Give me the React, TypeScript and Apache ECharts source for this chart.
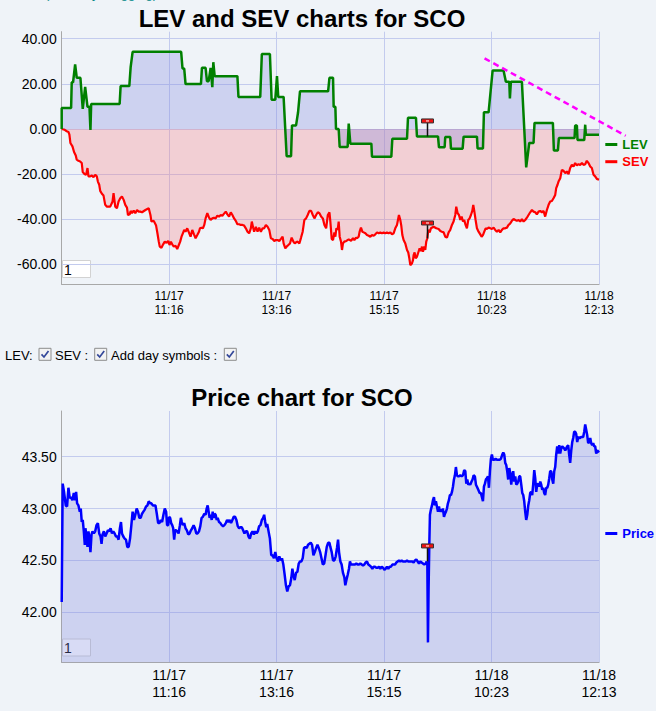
import React, { useEffect, useRef } from 'react';
import * as echarts from 'echarts';

const FONT = 'Arial, "Liberation Sans", Helvetica, sans-serif';
const BG = '#eff3f8';

// x axis: minute index of the session (0..600), ticks every 120
const xTickLabels = ['', '11/17\n11:16', '11/17\n13:16', '11/17\n15:15', '11/18\n10:23', '11/18\n12:13'];
const levYTicks = [-60, -40, -20, 0, 20, 40];
const priceYTicks = [42, 42.5, 43, 43.5];

// LEV (step-like line): [minute, value]
const levPoints = [
  [0, 0], [0, 9.3], [10.5, 9.3], [11.2, 20.7], [12.7, 20.7], [15.0, 28.6], [16.8, 22.7], [20.9, 22.7], [23.5, 8.9],
  [26.2, 18.7], [28.8, 9.8], [31.0, 9.8], [32.1, -0.4], [32.9, 11.1], [64.7, 11.1], [65.8, 19.0], [75.5, 19.0],
  [77.0, 27.4], [79.2, 34.2], [133.4, 34.2], [134.9, 26.8], [136.8, 26.8], [138.3, 19.9], [155.5, 19.9], [156.6, 27.1],
  [160.7, 27.1], [162.2, 21.2], [164.1, 21.2], [166.3, 27.1], [168.2, 18.5], [169.3, 29.6], [170.8, 23.4], [196.2, 23.4],
  [197.4, 14.2], [221.7, 14.2], [223.5, 33.2], [232.5, 33.2], [234.4, 13.0], [238.5, 13.0], [240.4, 23.4], [241.8, 14.2],
  [247.8, 14.2], [251.2, -12.1], [256.1, -12.1], [257.2, 1.6], [261.7, 1.6], [263.9, 7.3], [266.1, 16.7], [297.5, 16.7],
  [299.0, 22.7], [303.0, 22.7], [303.7, 9.8], [305.6, 9.8], [306.3, 0], [309.3, 0], [310.4, -8.0], [319.3, -8.0],
  [320.5, 2.4], [322.3, -6.5], [345.8, -6.5], [346.5, -12.3], [368.1, -12.3], [369.2, -4.3], [385.6, -4.3], [386.7, 5.0],
  [395.6, 5.0], [396.7, -3.3], [420.2, -3.3], [421.3, -8.1], [427.6, -8.1], [428.3, -3.6], [433.9, -3.6], [434.7, -8.7],
  [447.7, -8.7], [448.8, -3.4], [463.7, -3.4], [464.4, -8.6], [470.4, -8.6], [471.5, 7.4], [476.7, 7.4], [481.2, 25.9],
  [493.4, 25.9], [496.0, 20.9], [499.8, 20.9], [500.5, 13.5], [501.6, 20.9], [513.9, 20.9], [518.7, -17.0], [522.1, -6.2],
  [526.9, -6.2], [528.0, 2.7], [548.5, 2.7], [549.6, -9.5], [554.1, -9.5], [555.2, -4.0], [572.7, -4.0], [573.4, 1.5],
  [575.3, 1.5], [576.0, -4.9], [583.5, -4.9], [584.6, 1.9], [585.3, -2.5], [600, -2.5],
];

// SEV: [minute, value]
const sevPoints = [
  [0, 0], [3.0, -0.3], [5.6, -1.0], [7.5, -1.3], [8.6, -2.5], [9.7, -6.2], [12.0, -7.7], [13.8, -10.2], [15.7, -11.7],
  [16.8, -13.6], [18.7, -14.1], [20.6, -14.4], [22.4, -15.1], [23.5, -19.1], [25.4, -19.9], [27.3, -20.3], [28.8, -17.3],
  [29.9, -21.0], [31.8, -21.0], [33.6, -20.6], [35.5, -21.3], [37.4, -20.3], [39.2, -21.0], [40.4, -23.3], [41.9, -24.7],
  [43.0, -27.4], [44.9, -28.7], [46.7, -29.5], [48.6, -33.6], [50.5, -34.4], [54.2, -34.4], [56.8, -32.1], [57.9, -28.4],
  [59.8, -34.4], [61.7, -35.1], [63.5, -32.1], [65.4, -30.7], [67.3, -29.9], [69.2, -31.4], [71.0, -33.6], [72.9, -34.8],
  [74.0, -38.1], [75.9, -37.8], [77.0, -36.3], [78.5, -37.3], [80.4, -36.1], [82.2, -37.3], [84.1, -35.9], [86.0, -36.6],
  [87.8, -36.6], [89.7, -36.9], [93.5, -35.9], [97.2, -35.1], [99.1, -38.1], [100.2, -41.0], [102.8, -40.7], [105.4, -42.8],
  [106.9, -46.2], [108.4, -49.9], [109.5, -52.1], [111.4, -52.6], [113.3, -51.1], [115.1, -49.9], [117.0, -50.4],
  [118.9, -49.6], [120.4, -51.4], [121.9, -49.9], [123.4, -51.1], [125.2, -52.1], [127.1, -51.7], [129.0, -53.2],
  [130.8, -51.4], [132.3, -49.9], [133.8, -47.7], [135.3, -46.2], [136.8, -44.7], [138.3, -45.5], [140.2, -44.0],
  [142.0, -45.8], [143.9, -47.7], [145.8, -44.7], [147.7, -46.7], [149.5, -48.4], [151.4, -47.0], [153.3, -45.5],
  [154.4, -44.0], [156.2, -43.7], [157.7, -44.0], [159.2, -42.5], [160.7, -39.6], [162.6, -37.3], [164.5, -39.3],
  [166.3, -40.3], [168.2, -39.6], [170.1, -39.3], [171.9, -39.6], [173.8, -38.4], [175.7, -38.8], [177.6, -38.1],
  [179.4, -38.4], [181.3, -37.5], [183.2, -36.6], [185.0, -37.8], [186.9, -38.8], [188.8, -36.9], [190.6, -38.1],
  [192.5, -39.6], [194.4, -40.7], [196.2, -42.2], [198.1, -42.2], [200.0, -42.5], [201.9, -42.5], [203.7, -42.8],
  [205.6, -44.0], [207.5, -45.5], [209.3, -46.2], [211.2, -44.0], [212.3, -41.0], [213.8, -43.7], [214.9, -45.5],
  [216.8, -43.3], [218.7, -45.5], [220.5, -43.7], [222.4, -45.5], [224.3, -44.0], [226.1, -44.0], [228.0, -42.5],
  [229.9, -43.3], [231.8, -44.7], [233.6, -48.4], [235.5, -48.7], [237.4, -49.6], [239.2, -49.2], [241.1, -49.2],
  [243.0, -49.6], [244.8, -48.7], [246.7, -47.7], [247.8, -50.7], [249.7, -52.9], [251.2, -52.1], [253.1, -51.4],
  [254.9, -50.7], [256.8, -48.1], [258.7, -49.9], [260.2, -50.7], [261.7, -50.2], [263.5, -49.9], [265.4, -50.7],
  [267.3, -48.1], [269.1, -45.5], [271.0, -40.3], [272.9, -39.6], [274.7, -38.1], [276.6, -36.3], [278.5, -36.3],
  [280.4, -38.1], [282.2, -39.6], [284.1, -38.1], [286.0, -36.9], [287.8, -37.3], [289.7, -38.8], [291.6, -39.6],
  [293.4, -42.5], [295.3, -44.0], [297.2, -38.1], [299.0, -36.9], [300.0, -41.0], [301.5, -48.7], [303.0, -49.2],
  [304.5, -45.8], [305.6, -47.7], [306.7, -44.0], [308.2, -44.7], [309.3, -41.0], [310.4, -47.7], [311.9, -49.9],
  [313.0, -53.6], [314.1, -50.7], [315.6, -49.9], [317.9, -49.6], [320.5, -48.9], [323.1, -49.5], [325.3, -48.4],
  [326.8, -49.2], [328.6, -48.1], [329.8, -48.4], [331.6, -47.7], [332.7, -45.5], [334.2, -43.7], [335.7, -45.5],
  [337.2, -45.8], [339.1, -46.2], [340.9, -47.0], [342.8, -47.3], [344.6, -47.7], [346.5, -47.0], [348.4, -47.3],
  [350.2, -46.7], [352.1, -45.8], [353.9, -46.2], [355.8, -45.9], [357.7, -46.2], [359.5, -45.9], [361.4, -46.2],
  [363.2, -45.9], [365.1, -46.2], [367.0, -45.8], [368.8, -46.7], [370.7, -46.2], [372.5, -44.0], [374.4, -42.5],
  [375.5, -40.3], [376.6, -38.1], [378.1, -40.3], [379.2, -42.8], [380.4, -47.0], [381.8, -49.2], [383.7, -50.7],
  [385.6, -53.6], [387.0, -54.7], [388.2, -57.3], [389.3, -60.3], [391.1, -59.6], [392.3, -58.1], [393.0, -55.9],
  [394.1, -54.7], [395.2, -57.3], [396.7, -56.6], [398.2, -54.7], [399.7, -52.9], [401.2, -54.1], [402.3, -52.1],
  [403.4, -54.4], [404.9, -52.1], [406.0, -53.6], [407.1, -49.9], [408.3, -48.4], [409.4, -44.7], [410.9, -45.8],
  [412.3, -44.0], [415.3, -43.3], [418.3, -44.0], [420.9, -44.3], [422.8, -45.2], [424.6, -45.5], [426.5, -45.8],
  [428.3, -47.7], [430.2, -48.1], [432.1, -45.8], [433.9, -44.7], [435.8, -42.5], [437.6, -41.0], [439.5, -38.1],
  [440.6, -34.4], [442.1, -37.3], [443.6, -38.1], [445.1, -40.3], [446.6, -38.8], [448.1, -41.0], [449.5, -40.3],
  [451.0, -42.5], [452.5, -44.0], [454.0, -40.3], [455.5, -39.6], [457.0, -38.1], [458.5, -36.3], [459.6, -33.6],
  [460.7, -36.3], [462.2, -40.3], [463.7, -44.0], [465.5, -45.5], [467.4, -46.7], [468.9, -47.7], [470.4, -47.0],
  [471.9, -45.5], [473.4, -44.0], [474.8, -44.3], [476.7, -43.7], [478.6, -44.0], [480.4, -44.3], [482.3, -43.7],
  [484.1, -44.7], [486.0, -45.5], [487.9, -44.7], [489.7, -45.8], [491.6, -44.7], [493.4, -44.0], [495.3, -44.0],
  [497.2, -43.7], [499.0, -42.5], [500.9, -41.8], [502.7, -40.7], [504.6, -39.9], [506.5, -40.3], [508.3, -40.7],
  [510.2, -40.3], [512.0, -41.0], [513.9, -39.9], [515.8, -41.0], [517.6, -40.3], [519.5, -39.3], [521.3, -38.1],
  [523.2, -36.9], [525.1, -35.9], [526.9, -36.6], [528.8, -36.9], [530.6, -37.8], [532.5, -36.6], [534.4, -36.3],
  [536.2, -36.9], [538.1, -36.3], [539.9, -38.8], [541.8, -35.9], [543.7, -33.6], [545.5, -32.1], [547.4, -31.9],
  [549.2, -30.7], [551.1, -29.2], [552.2, -26.2], [553.7, -24.7], [554.8, -23.3], [556.7, -21.8], [558.5, -18.1],
  [560.4, -18.5], [562.3, -19.6], [564.1, -18.8], [566.0, -20.0], [567.8, -17.3], [569.7, -15.9], [571.6, -16.6],
  [573.4, -15.1], [575.3, -16.1], [577.1, -15.6], [579.0, -15.9], [580.9, -15.1], [582.7, -15.9], [584.6, -15.6],
  [586.4, -14.1], [588.3, -15.1], [590.2, -16.6], [592.0, -17.3], [593.9, -20.3], [595.7, -21.0], [597.6, -22.1],
  [600, -22.5],
];

// Price: [minute, value]
const pricePoints = [
  [0, 42.10], [1.1, 43.24], [2.6, 43.16], [4.5, 43.03], [6.0, 43.02], [7.5, 43.20], [9.0, 43.10], [10.5, 43.11],
  [12.0, 43.08], [13.5, 43.15], [15.0, 43.08], [16.1, 43.16], [17.2, 43.05], [18.7, 43.03], [20.2, 42.97], [21.3, 43.00],
  [22.4, 42.87], [23.5, 42.89], [24.7, 42.78], [25.8, 42.65], [26.5, 42.81], [27.7, 42.73], [28.8, 42.63], [29.9, 42.78],
  [31.0, 42.71], [32.1, 42.58], [33.3, 42.75], [34.4, 42.78], [35.9, 42.76], [37.4, 42.78], [38.9, 42.84], [40.4, 42.86],
  [41.9, 42.76], [43.4, 42.73], [44.5, 42.66], [45.6, 42.75], [47.1, 42.78], [48.6, 42.73], [50.1, 42.76], [51.6, 42.79],
  [53.1, 42.78], [54.6, 42.81], [56.1, 42.76], [57.6, 42.78], [59.1, 42.76], [60.6, 42.73], [62.1, 42.73], [63.5, 42.70],
  [65.0, 42.81], [66.2, 42.87], [67.3, 42.76], [68.8, 42.73], [70.3, 42.71], [71.8, 42.70], [73.3, 42.63], [74.8, 42.63],
  [76.3, 42.71], [77.8, 42.84], [79.2, 42.97], [80.7, 42.89], [82.2, 42.94], [83.7, 43.00], [85.2, 42.97], [86.7, 42.91],
  [88.2, 42.91], [89.7, 42.95], [91.2, 42.97], [92.7, 42.99], [94.2, 43.02], [95.7, 43.03], [97.2, 43.07], [98.7, 43.05],
  [100.2, 43.05], [101.7, 43.03], [103.2, 43.03], [104.7, 43.03], [106.2, 42.95], [107.7, 42.86], [109.2, 42.86],
  [110.6, 42.89], [112.1, 42.87], [113.6, 42.94], [115.1, 43.00], [116.6, 42.97], [117.7, 42.84], [118.9, 42.84],
  [120.0, 42.92], [121.1, 42.91], [122.2, 42.86], [123.4, 42.84], [124.5, 42.81], [125.6, 42.70], [126.7, 42.79],
  [127.8, 42.79], [129.0, 42.78], [130.5, 42.76], [132.0, 42.84], [133.1, 42.91], [134.2, 42.87], [135.3, 42.84],
  [136.8, 42.86], [138.3, 42.81], [139.8, 42.79], [141.3, 42.75], [142.8, 42.76], [144.3, 42.79], [145.8, 42.81],
  [147.3, 42.84], [148.8, 42.81], [150.3, 42.76], [151.8, 42.76], [153.3, 42.78], [154.8, 42.83], [156.2, 42.91],
  [157.7, 42.92], [159.2, 42.95], [160.7, 42.94], [161.9, 43.00], [163.0, 43.03], [164.1, 42.97], [165.2, 42.91],
  [166.3, 42.94], [167.5, 42.89], [168.6, 42.97], [169.7, 42.91], [170.8, 42.95], [171.9, 42.94], [173.1, 42.89],
  [174.2, 42.91], [175.7, 42.87], [177.2, 42.86], [178.7, 42.84], [180.2, 42.83], [181.7, 42.84], [183.2, 42.86],
  [184.7, 42.89], [186.2, 42.87], [187.6, 42.89], [189.1, 42.86], [190.6, 42.89], [192.1, 42.92], [193.6, 42.92],
  [195.1, 42.89], [196.6, 42.83], [198.1, 42.81], [199.6, 42.82], [201.1, 42.82], [202.6, 42.79], [204.1, 42.76],
  [205.6, 42.78], [207.1, 42.78], [208.6, 42.73], [210.1, 42.71], [211.6, 42.76], [213.1, 42.78], [214.6, 42.75],
  [216.1, 42.78], [217.6, 42.76], [219.0, 42.78], [220.5, 42.83], [222.0, 42.84], [223.5, 42.89], [225.0, 42.91],
  [226.1, 42.94], [227.3, 42.87], [228.4, 42.82], [229.5, 42.85], [231.0, 42.78], [232.5, 42.71], [234.0, 42.55],
  [235.5, 42.55], [237.0, 42.52], [238.5, 42.58], [240.0, 42.52], [241.5, 42.49], [243.0, 42.54], [244.5, 42.50],
  [246.0, 42.52], [247.5, 42.46], [249.0, 42.36], [250.4, 42.26], [251.9, 42.20], [253.4, 42.25], [254.9, 42.26],
  [256.4, 42.33], [257.6, 42.42], [258.7, 42.36], [260.2, 42.31], [261.7, 42.38], [263.2, 42.39], [264.7, 42.47],
  [266.1, 42.49], [267.6, 42.49], [269.1, 42.52], [270.6, 42.62], [272.1, 42.63], [273.6, 42.62], [275.1, 42.65],
  [276.6, 42.66], [278.1, 42.67], [279.6, 42.65], [281.1, 42.55], [282.6, 42.58], [284.1, 42.62], [285.6, 42.65],
  [287.1, 42.62], [288.6, 42.58], [290.1, 42.52], [291.6, 42.46], [293.1, 42.47], [294.6, 42.55], [296.0, 42.63],
  [297.5, 42.67], [299.0, 42.67], [300.0, 42.63], [301.5, 42.58], [303.0, 42.50], [304.5, 42.50], [306.0, 42.54],
  [307.4, 42.62], [308.6, 42.70], [309.7, 42.58], [311.2, 42.49], [312.6, 42.46], [314.1, 42.38], [315.6, 42.34],
  [316.7, 42.26], [317.9, 42.31], [319.3, 42.36], [320.8, 42.42], [321.9, 42.49], [323.1, 42.46], [324.6, 42.46],
  [326.0, 42.46], [327.5, 42.46], [329.0, 42.47], [330.5, 42.46], [332.0, 42.46], [333.5, 42.47], [335.0, 42.46],
  [336.5, 42.45], [337.9, 42.46], [339.4, 42.48], [340.9, 42.49], [342.4, 42.46], [343.9, 42.45], [345.4, 42.44],
  [346.9, 42.42], [348.4, 42.44], [349.8, 42.44], [351.3, 42.43], [352.8, 42.43], [354.3, 42.44], [355.8, 42.42],
  [357.3, 42.44], [358.8, 42.43], [360.3, 42.41], [361.8, 42.42], [363.2, 42.44], [364.7, 42.42], [366.2, 42.44],
  [367.7, 42.44], [369.2, 42.46], [370.7, 42.46], [372.2, 42.46], [373.7, 42.48], [375.1, 42.49], [376.6, 42.50],
  [378.1, 42.49], [379.6, 42.50], [381.1, 42.49], [382.6, 42.49], [384.1, 42.49], [385.6, 42.50], [387.0, 42.49],
  [388.5, 42.49], [390.0, 42.49], [391.5, 42.49], [393.0, 42.48], [394.5, 42.50], [396.0, 42.51], [397.5, 42.49],
  [399.0, 42.47], [400.4, 42.49], [401.9, 42.48], [403.4, 42.47], [404.9, 42.46], [406.4, 42.47], [407.5, 42.49],
  [408.3, 42.46], [409.0, 41.71], [409.7, 42.23], [410.5, 42.65], [411.2, 42.94], [412.3, 42.99], [413.5, 43.03],
  [414.6, 43.08], [415.7, 43.11], [416.8, 43.03], [417.9, 43.07], [419.0, 43.02], [420.2, 42.97], [421.3, 43.02],
  [422.4, 42.97], [423.5, 42.99], [424.6, 42.97], [425.7, 43.00], [426.9, 42.92], [428.0, 42.95], [429.1, 42.97],
  [430.2, 43.00], [431.3, 43.05], [432.4, 43.08], [433.5, 43.13], [434.7, 43.13], [435.8, 43.16], [436.9, 43.21],
  [438.0, 43.28], [439.1, 43.32], [440.2, 43.40], [441.4, 43.32], [442.5, 43.31], [443.6, 43.31], [445.1, 43.32],
  [446.6, 43.31], [448.1, 43.32], [449.5, 43.37], [450.7, 43.36], [451.8, 43.24], [452.9, 43.28], [454.0, 43.23],
  [455.1, 43.24], [456.2, 43.23], [457.7, 43.26], [458.8, 43.28], [460.0, 43.32], [461.4, 43.31], [462.6, 43.23],
  [463.7, 43.21], [465.2, 43.18], [466.7, 43.15], [468.1, 43.15], [469.3, 43.11], [470.4, 43.07], [471.5, 43.21],
  [472.6, 43.24], [473.7, 43.28], [474.8, 43.29], [476.0, 43.31], [477.1, 43.20], [478.2, 43.36], [479.3, 43.48],
  [480.4, 43.52], [481.5, 43.47], [483.0, 43.47], [484.5, 43.48], [486.0, 43.47], [487.5, 43.47], [489.0, 43.47],
  [490.5, 43.48], [492.0, 43.52], [493.1, 43.54], [494.2, 43.52], [495.3, 43.44], [496.4, 43.42], [497.5, 43.36],
  [498.6, 43.28], [499.8, 43.39], [500.9, 43.34], [502.0, 43.23], [503.1, 43.32], [504.2, 43.36], [505.3, 43.26],
  [506.5, 43.31], [507.6, 43.23], [508.7, 43.24], [509.8, 43.26], [510.9, 43.31], [512.0, 43.31], [513.2, 43.23],
  [514.3, 43.15], [515.4, 43.13], [516.5, 43.07], [517.6, 42.97], [518.7, 42.89], [519.9, 42.94], [521.0, 43.03],
  [522.1, 43.08], [523.2, 43.15], [524.3, 43.16], [525.4, 43.13], [526.5, 43.23], [527.7, 43.37], [528.8, 43.29],
  [529.9, 43.16], [531.0, 43.23], [532.1, 43.24], [533.2, 43.21], [534.4, 43.26], [535.5, 43.23], [536.6, 43.18],
  [537.7, 43.20], [538.8, 43.15], [539.9, 43.13], [541.1, 43.20], [542.2, 43.20], [543.3, 43.23], [544.4, 43.29],
  [545.5, 43.36], [546.6, 43.36], [547.8, 43.28], [548.9, 43.24], [550.0, 43.36], [551.1, 43.40], [552.2, 43.52],
  [553.3, 43.60], [554.4, 43.53], [555.6, 43.61], [556.7, 43.53], [557.8, 43.58], [558.9, 43.60], [560.0, 43.59],
  [561.1, 43.58], [562.3, 43.56], [563.4, 43.58], [564.5, 43.60], [565.6, 43.61], [566.7, 43.52], [567.8, 43.44],
  [569.0, 43.56], [570.1, 43.64], [571.2, 43.68], [572.3, 43.74], [573.4, 43.74], [574.5, 43.72], [575.7, 43.64],
  [576.8, 43.69], [577.9, 43.68], [579.0, 43.68], [580.1, 43.69], [581.2, 43.69], [582.3, 43.69], [583.5, 43.74],
  [584.6, 43.81], [585.7, 43.76], [586.8, 43.71], [587.9, 43.63], [589.0, 43.64], [590.2, 43.68], [591.3, 43.63],
  [592.4, 43.61], [593.5, 43.63], [594.6, 43.60], [595.7, 43.60], [596.9, 43.53], [598.0, 43.56], [599.1, 43.55],
  [600, 43.54],
];

// Day-change symbols and LEV trend line (start minute, start value, end minute, end value)
const topDayMarks = [[407.5, -3.3], [407.5, -48.5]];
const priceDayMarks = [[407.5, 42.49]];
const levTrend = [[472.2, 31.3, 629.8, -3.0]];

const LAVENDER = 'rgba(126,136,221,0.3)';
const PINK = 'rgba(249,126,128,0.3)';
const GRID_LINE = '#c3cbee';
const AXIS_LINE = '#a8a8a8';

const fmtX = (v: number) => xTickLabels[Math.round(v / 120)] ?? '';

const renderDayMark = (params: any, api: any) => {
  const p = api.coord([api.value(0), api.value(1)]);
  const x = Math.round(p[0]) + 0.5;
  const y = p[1];
  return {
    type: 'group',
    children: [
      { type: 'line', shape: { x1: x, y1: y, x2: x, y2: y - 14 }, style: { stroke: '#111', lineWidth: 1.5 } },
      { type: 'rect', shape: { x: x - 6, y: y - 17.5, width: 12, height: 4 }, style: { fill: '#ee1111', stroke: '#333', lineWidth: 1 } },
      { type: 'rect', shape: { x: x - 1.5, y: y - 16, width: 3, height: 1 }, style: { fill: '#ffffff' } },
    ],
  };
};

const renderTrend = (params: any, api: any) => {
  const a = api.coord([api.value(0), api.value(1)]);
  const b = api.coord([api.value(2), api.value(3)]);
  return {
    type: 'line',
    shape: { x1: a[0], y1: a[1], x2: b[0], y2: b[1] },
    style: { stroke: '#ff00ff', lineWidth: 2.5, lineDash: [6, 4] },
  };
};

const checkbox = (x: number, y: number) => ({
  type: 'group', x, y, silent: true,
  children: [
    { type: 'rect', shape: { x: 0.5, y: 0.5, width: 12, height: 12 }, style: { fill: '#f3f3f3', stroke: '#8d8d8d', lineWidth: 1 } },
    { type: 'polyline', shape: { points: [[3, 6.5], [5.5, 9.2], [10, 3.2]] }, style: { stroke: '#34489a', lineWidth: 1.7, fill: null } },
  ],
});

const inputBox = (x: number, y: number) => ({
  type: 'group', x, y, silent: true,
  children: [
    { type: 'rect', shape: { x: 0.5, y: 0.5, width: 28, height: 17 }, style: { fill: '#ffffff', stroke: '#d2d2d2', lineWidth: 1 } },
    { type: 'text', x: 2, y: 9.5, style: { text: '1', fill: '#000', fontSize: 14, fontFamily: FONT, textVerticalAlign: 'middle', verticalAlign: 'middle' } },
  ],
});

const rowText = (x: number, text: string) => ({
  type: 'text', x, y: 355, silent: true,
  style: { text, fill: '#000', fontSize: 13, fontFamily: FONT, textVerticalAlign: 'middle', verticalAlign: 'middle' },
});

const xAxisBase = (gridIndex: number, fontSize: number, lineHeight: number, margin: number) => ({
  type: 'value', gridIndex, min: 0, max: 600, interval: 120,
  axisLine: { show: true, onZero: false, lineStyle: { color: AXIS_LINE, width: 1 } },
  axisTick: { show: false },
  splitLine: { show: true, lineStyle: { color: GRID_LINE, width: 1 } },
  axisLabel: { formatter: fmtX, color: '#000', fontFamily: FONT, fontSize, lineHeight, margin },
});

const yAxisBase = (gridIndex: number, min: number, max: number, ticks: number[]) => ({
  type: 'value', gridIndex, min, max,
  axisLine: { show: true, onZero: false, lineStyle: { color: AXIS_LINE, width: 1 } },
  axisTick: { show: false, customValues: ticks },
  splitLine: { show: true, lineStyle: { color: GRID_LINE, width: 1 } },
  axisLabel: { customValues: ticks, formatter: (v: number) => v.toFixed(2), color: '#000', fontFamily: FONT, fontSize: 14, margin: 5 },
});

export default function App() {
  const ref = useRef<HTMLDivElement>(null);
  useEffect(() => {
    if (!ref.current) return;
    const chart = echarts.init(ref.current, null, { renderer: 'svg' });
    const legendCommon = {
      orient: 'vertical', icon: 'rect', itemWidth: 12, itemHeight: 3, itemGap: 3.2, padding: 0,
      selectedMode: false, itemStyle: { borderWidth: 0 },
      textStyle: { fontFamily: FONT, fontSize: 13, fontWeight: 'bold', lineHeight: 14 },
    };
    chart.setOption({
      animation: false,
      backgroundColor: BG,
      title: [
        { text: 'LEV and SEV charts for SCO', left: 302, top: 6, textAlign: 'center', padding: 0,
          textStyle: { fontFamily: FONT, fontSize: 24, fontWeight: 'bold', color: '#000', lineHeight: 24 } },
        { text: 'Price chart for SCO', left: 302, top: 385.7, textAlign: 'center', padding: 0,
          textStyle: { fontFamily: FONT, fontSize: 24, fontWeight: 'bold', color: '#000', lineHeight: 24 } },
      ],
      legend: [
        { ...legendCommon, left: 605.3, top: 137.5,
          data: [
            { name: 'LEV', itemStyle: { color: '#008000' }, textStyle: { color: '#008000' } },
            { name: 'SEV', itemStyle: { color: '#ff0000' }, textStyle: { color: '#ff0000' } },
          ] },
        { ...legendCommon, left: 605.3, top: 526.5,
          data: [{ name: 'Price', itemStyle: { color: '#0000ff' }, textStyle: { color: '#0000ff' } }] },
      ],
      grid: [
        { left: 61.7, top: 31.7, width: 537.3, height: 252.6, containLabel: false, outerBoundsMode: 'none' },
        { left: 61.7, top: 411, width: 537.3, height: 251.3, containLabel: false, outerBoundsMode: 'none' },
      ],
      xAxis: [xAxisBase(0, 12, 14.5, 4), xAxisBase(1, 14, 16.5, 4.7)],
      yAxis: [yAxisBase(0, -68.8, 43.1, levYTicks), yAxisBase(1, 41.518, 43.94, priceYTicks)],
      series: [
        { name: 'SEV', type: 'line', xAxisIndex: 0, yAxisIndex: 0, data: sevPoints, symbol: 'none', showSymbol: false,
          silent: true, emphasis: { disabled: true }, z: 2,
          itemStyle: { color: '#ff0000' }, lineStyle: { color: '#ff0000', width: 2.2 }, areaStyle: { color: PINK, opacity: 1 } },
        { name: 'LEV', type: 'line', xAxisIndex: 0, yAxisIndex: 0, data: levPoints, symbol: 'none', showSymbol: false,
          silent: true, emphasis: { disabled: true }, z: 3,
          itemStyle: { color: '#008000' }, lineStyle: { color: '#008000', width: 2.5 }, areaStyle: { color: LAVENDER, opacity: 1 } },
        { name: 'LEV trend', type: 'custom', xAxisIndex: 0, yAxisIndex: 0, data: levTrend,
          renderItem: renderTrend, silent: true, clip: false, z: 4 },
        { name: 'day symbols', type: 'custom', xAxisIndex: 0, yAxisIndex: 0, data: topDayMarks,
          renderItem: renderDayMark, silent: true, z: 5 },
        { name: 'Price', type: 'line', xAxisIndex: 1, yAxisIndex: 1, data: pricePoints, symbol: 'none', showSymbol: false,
          silent: true, emphasis: { disabled: true }, z: 2,
          itemStyle: { color: '#0000ff' }, lineStyle: { color: '#0000ff', width: 2.5 },
          areaStyle: { color: LAVENDER, origin: 'start', opacity: 1 } },
        { name: 'price day symbols', type: 'custom', xAxisIndex: 1, yAxisIndex: 1, data: priceDayMarks,
          renderItem: renderDayMark, silent: true, z: 5 },
      ],
      graphic: [
        { type: 'text', x: 45, y: 0, silent: true,
          style: { text: '(zoom by dragging)', fill: '#0a8a8a', fontSize: 13, fontFamily: FONT, textVerticalAlign: 'bottom', verticalAlign: 'bottom' } },
        rowText(5, 'LEV:'),
        checkbox(38.5, 347.8),
        rowText(55, 'SEV :'),
        checkbox(94.2, 347.8),
        rowText(111, 'Add day symbols :'),
        checkbox(223.8, 347.8),
        inputBox(62, 260),
        inputBox(62, 638.5),
      ],
    });
    return () => chart.dispose();
  }, []);
  return <div ref={ref} style={{ position: 'absolute', left: 0, top: 0, width: 656, height: 711 }} />;
}
